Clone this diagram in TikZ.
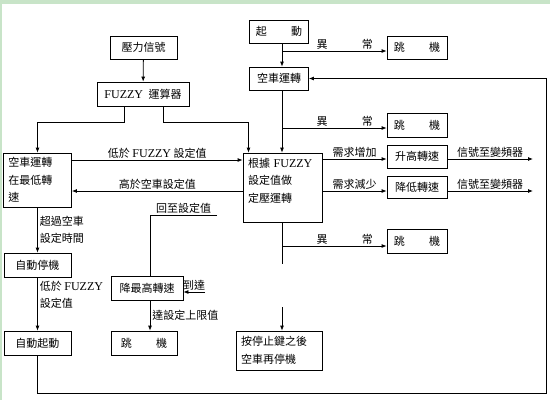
\documentclass[tikz,border=0pt]{standalone}
\usepackage{fontspec}
\setmainfont{Liberation Serif}
\newfontfamily\cjkfont{Noto Sans CJK TC}
\newcommand\cjk{\cjkfont\fontsize{11}{17.5}\selectfont}
\newcommand\fz{{\rmfamily\fontsize{12}{17.5}\selectfont FUZZY}}
\usetikzlibrary{arrows.meta}
\definecolor{framegreen}{RGB}{200,228,200}
\tikzset{
  box/.style={draw,inner sep=0pt,minimum height=23pt,font=\cjk},
  mbox/.style={box,inner xsep=5pt,align=left},
  lbl/.style={inner sep=1pt,font=\cjk},
  arr/.style={-{Latex[length=5pt,width=4pt]}}
}

\begin{document}
\begin{tikzpicture}[x=1pt,y=-1pt,line width=0.8pt]
  \fill[framegreen] (0,0) rectangle (550,400);
  \fill[white] (2,4) rectangle (550,400);
  \useasboundingbox (0,0) rectangle (550,400);

  \coordinate (spine) at (282,0);
  \coordinate (b1) at (282,51);
  \coordinate (b2) at (282,128);
  \coordinate (b3) at (282,246);
  \coordinate (g1) at (282,264);
  \coordinate (g2) at (282,307);
  \coordinate (h1) at (0,160);
  \coordinate (h2) at (0,191);
  \coordinate (o1) at (533,159);
  \coordinate (o2) at (533,191);
  \coordinate (r0) at (217,215);
  \coordinate (r1) at (205,292);
  \coordinate (r2) at (150,215);
  \coordinate (fb) at (546,393);

  \node[box,minimum width=67pt] (pres) at (143.5,47.5) {壓力信號};
  \node[box,minimum width=92pt,minimum height=24pt] (fuzzy) at (143,94) {\fz\hspace{0.5em}運算器};
  \node[box,minimum width=59pt] (start) at (279,31.5) {起\hspace{2.2em}動};
  \node[box,minimum width=59pt] (idle) at (279,78.5) {空車運轉};
  \node[box,minimum width=60pt] (trip1) at (417,47.5) {跳\hspace{2.2em}機};
  \node[box,minimum width=60pt,minimum height=24pt] (trip2) at (417,125) {跳\hspace{2.2em}機};
  \node[mbox,text width=58pt,minimum height=54pt] (low) at (37.5,180) {空車運轉\\在最低轉\\速};
  \node[mbox,text width=69pt,text depth=50pt,minimum height=69pt] (ctrl) at (282.5,187.5) {根據 \fz\\設定值做\\定壓運轉};
  \node[box,minimum width=60pt] (up) at (417,156.5) {升高轉速};
  \node[box,minimum width=60pt,minimum height=22pt] (down) at (417,187) {降低轉速};
  \node[box,minimum width=60pt,minimum height=24pt] (trip3) at (417,241) {跳\hspace{2.2em}機};
  \node[box,minimum width=67pt,minimum height=24pt] (stop) at (37.5,265) {自動停機};
  \node[box,minimum width=72pt,minimum height=24pt] (maxspd) at (147,288) {降最高轉速};
  \node[box,minimum width=67pt,minimum height=24pt] (auto) at (37.5,343) {自動起動};
  \node[box,minimum width=66pt,minimum height=24pt] (trip4) at (144,343) {跳\hspace{2.2em}機};
  \node[mbox,text width=76pt,minimum height=39pt] (halt) at (279,350.5) {按停止鍵之後\\空車再停機};

  \draw[arr] (pres) -- (fuzzy);
  \draw[arr] ([xshift=-19pt]fuzzy.south) -- ++(0,16) -| (low.north);
  \draw[arr] ([xshift=20pt]fuzzy.south) -- ++(0,16) -| ([xshift=-34pt]ctrl.north);

  \draw[arr] (start.south -| spine) -- (idle.north -| spine);
  \draw[arr] (b1) -- node[lbl,above,pos=0.6]{異\hspace{3.1em}常} (b1 -| trip1.west);
  \draw[arr] (idle.south -| spine) -- (ctrl.north -| spine);
  \draw[arr] (b2) -- node[lbl,above,pos=0.6]{異\hspace{3.1em}常} (b2 -| trip2.west);
  \draw[arr] (auto.south) |- (fb) |- (idle.east);

  \draw[arr] (low.east |- h1) -- node[lbl,above]{低於 \fz\ 設定值} (ctrl.west |- h1);
  \draw[arr] (ctrl.west |- h2) -- node[lbl,above]{高於空車設定值} (low.east |- h2);
  \draw[arr] (ctrl.east |- o1) -- node[lbl,above]{需求增加} (up.west |- o1);
  \draw[arr] (up.east |- o1) -- node[lbl,above]{信號至變頻器} (o1);
  \draw[arr] (ctrl.east |- o2) -- node[lbl,above]{需求減少} (down.west |- o2);
  \draw[arr] (down.east |- o2) -- node[lbl,above]{信號至變頻器} (o2);

  \draw (ctrl.south -| spine) -- (g1);
  \draw[arr] (b3) -- node[lbl,above,pos=0.6]{異\hspace{3.1em}常} (b3 -| trip3.west);
  \draw[arr] (g2) -- (halt.north -| spine);

  \draw[arr] (low) -- node[lbl,right,align=left,inner sep=2pt]{超過空車\\設定時間} (stop);
  \draw[arr] (stop) -- node[lbl,right,align=left,inner sep=2pt,pos=0.33]{低於 \fz\\設定值} (auto);

  \draw (r0) -- node[lbl,above]{回至設定值} (r2) -- (r2 |- maxspd.north);
  \draw[arr] (r1) -- node[lbl,above]{到達} (r1 -| maxspd.east);
  \draw[arr] (r2 |- maxspd.south) -- node[lbl,right,inner sep=2pt]{達設定上限值} (r2 |- trip4.north);
\end{tikzpicture}
\end{document}
